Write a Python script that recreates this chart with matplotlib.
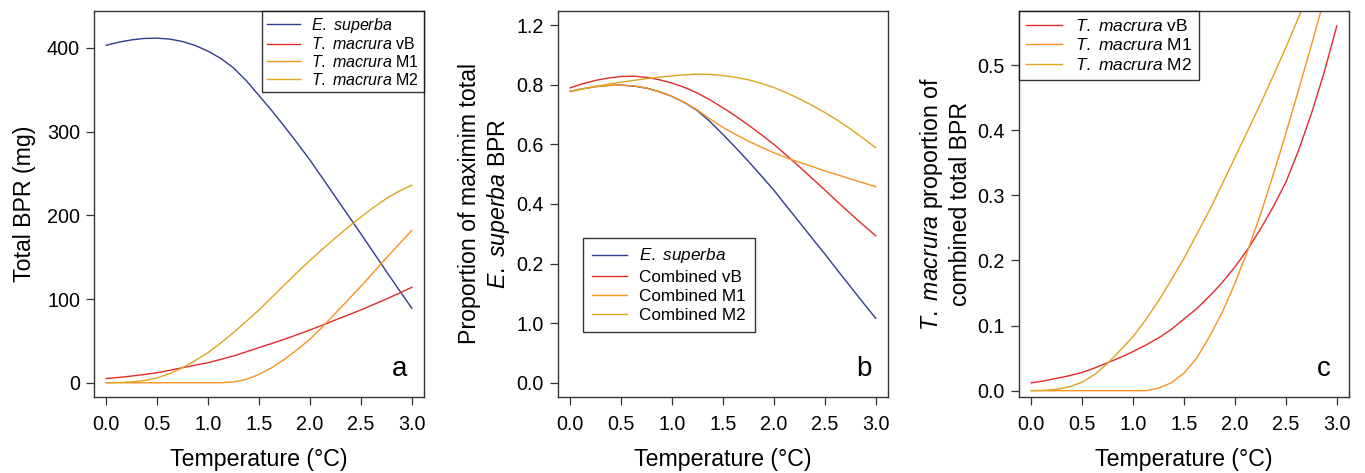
import matplotlib
matplotlib.use("Agg")
import matplotlib.pyplot as plt

plt.rcParams["font.family"] = ["Liberation Sans", "DejaVu Sans"]
plt.rcParams["mathtext.fontset"] = "custom"
plt.rcParams["mathtext.rm"] = "Liberation Sans"
plt.rcParams["mathtext.it"] = "Liberation Sans:italic"

# temperature grid (°C)
temp = [0.0, 0.125, 0.25, 0.375, 0.5, 0.625, 0.75, 0.875, 1.0, 1.125, 1.25, 1.375,
        1.5, 1.625, 1.75, 1.875, 2.0, 2.125, 2.25, 2.375, 2.5, 2.625, 2.75, 2.875, 3.0]

# panel a: total BPR (mg)
a_superba = [403, 406.8, 409.5, 411.2, 411.5, 410.4, 407.5, 402.7, 396, 387.3, 376, 360.8,
             343, 325.1, 306, 286.4, 266, 244.1, 222, 200, 178, 155.5, 133, 111, 89]
a_vb = [5, 6.4, 8, 9.9, 12, 14.9, 18, 21, 24, 27.9, 32, 36.9,
        42, 46.9, 52, 57.4, 63, 68.9, 75, 80.9, 87, 93.4, 100, 106.9, 114]
a_m1 = [0, 0, 0, 0, 0, 0, 0, 0, 0, 0, 1, 4,
        10, 18, 28, 39.5, 52, 67, 83, 99, 115, 132, 149, 165.5, 182]
a_m2 = [0, 0.3, 1, 2.6, 5.8, 11, 18, 26.6, 36, 47.6, 60, 73.3,
        87, 102, 117, 131.8, 146, 159.8, 173, 185.8, 198, 209.4, 220, 228.8, 236]

# panel b: proportion of maximum total E. superba BPR
b_superba = [0.978, 0.987, 0.994, 0.998, 0.999, 0.996, 0.989, 0.977, 0.961, 0.940, 0.913, 0.876,
             0.833, 0.789, 0.743, 0.695, 0.646, 0.592, 0.539, 0.485, 0.432, 0.377, 0.323, 0.269, 0.216]
b_vb = [0.990, 1.004, 1.015, 1.023, 1.028, 1.029, 1.025, 1.017, 1.006, 0.991, 0.972, 0.949,
        0.923, 0.895, 0.865, 0.833, 0.800, 0.763, 0.725, 0.686, 0.647, 0.607, 0.568, 0.530, 0.493]
b_m1 = [0.978, 0.987, 0.994, 0.998, 0.999, 0.996, 0.989, 0.977, 0.961, 0.940, 0.915, 0.885,
        0.857, 0.833, 0.811, 0.791, 0.772, 0.755, 0.740, 0.726, 0.711, 0.698, 0.684, 0.671, 0.658]
b_m2 = [0.978, 0.987, 0.995, 1.002, 1.009, 1.015, 1.021, 1.026, 1.030, 1.034, 1.036, 1.035,
        1.031, 1.025, 1.017, 1.005, 0.991, 0.973, 0.953, 0.931, 0.907, 0.881, 0.852, 0.821, 0.789]

# panel c: T. macrura proportion of combined total BPR
c_vb = [0.012, 0.015, 0.019, 0.023, 0.028, 0.035, 0.043, 0.051, 0.060, 0.070, 0.081, 0.094,
        0.110, 0.126, 0.145, 0.166, 0.190, 0.217, 0.248, 0.282, 0.320, 0.369, 0.425, 0.488, 0.560]
c_m1 = [0, 0, 0, 0, 0, 0, 0, 0, 0, 0, 0.004, 0.012,
        0.027, 0.050, 0.083, 0.120, 0.165, 0.215, 0.270, 0.331, 0.395, 0.462, 0.530, 0.600, 0.670]
c_m2 = [0, 0.0005, 0.002, 0.006, 0.013, 0.025, 0.042, 0.062, 0.083, 0.109, 0.138, 0.170,
        0.203, 0.240, 0.277, 0.317, 0.358, 0.399, 0.440, 0.483, 0.527, 0.573, 0.620, 0.670, 0.720]

b_ytick_labels = ["0.0", "1.0", "0.2", "0.4", "0.6", "0.8", "1.2"]

BLUE = "#2F3C8C"
RED = "#E32B2B"
ORANGE = "#F7931E"
GOLD = "#DFA41D"

fig = plt.figure(figsize=(13.65, 4.73), dpi=100)
ax_a = fig.add_axes([0.06886, 0.1607, 0.24176, 0.8161])
ax_b = fig.add_axes([0.40879, 0.1607, 0.24176, 0.8161])
ax_c = fig.add_axes([0.74652, 0.1607, 0.24176, 0.8161])

lw = 1.0
leg_kw = dict(frameon=True, fancybox=False, edgecolor="black",
              handlelength=2.1, handletextpad=0.7, borderaxespad=0)

# panel a
ax_a.plot(temp, a_superba, color=BLUE, lw=lw, label=r"$\it{E.\ superba}$")
ax_a.plot(temp, a_vb, color=RED, lw=lw, label=r"$\it{T.\ macrura}$ vB")
ax_a.plot(temp, a_m1, color=ORANGE, lw=lw, label=r"$\it{T.\ macrura}$ M1")
ax_a.plot(temp, a_m2, color=GOLD, lw=lw, label=r"$\it{T.\ macrura}$ M2")
ax_a.set_ylim(-17, 444)
ax_a.set_yticks([0, 100, 200, 300, 400])
ax_a.set_ylabel("Total BPR (mg)", fontsize=16.7, labelpad=8)
leg = ax_a.legend(loc="upper right", fontsize=11.5, labelspacing=0.1, borderpad=0.3, **leg_kw)
leg.get_frame().set_linewidth(1.0)
ax_a.text(0.95, 0.04, "a", transform=ax_a.transAxes, fontsize=20, ha="right", va="bottom")

# panel b
ax_b.plot(temp, b_superba, color=BLUE, lw=lw, label=r"$\it{E.\ superba}$")
ax_b.plot(temp, b_vb, color=RED, lw=lw, label="Combined vB")
ax_b.plot(temp, b_m1, color=ORANGE, lw=lw, label="Combined M1")
ax_b.plot(temp, b_m2, color=GOLD, lw=lw, label="Combined M2")
ax_b.set_ylim(-0.048, 1.248)
ax_b.set_yticks([0.0, 0.2, 0.4, 0.6, 0.8, 1.0, 1.2])
ax_b.set_yticklabels(b_ytick_labels)
ax_b.set_ylabel("Proportion of maximim total\n" + r"$\it{E.\ superba}$ BPR",
                fontsize=16.7, labelpad=3, linespacing=1.2)
leg = ax_b.legend(loc="upper left", bbox_to_anchor=(0.076, 0.412), fontsize=12.3,
                  labelspacing=0.25, borderpad=0.5, **leg_kw)
leg.get_frame().set_linewidth(1.0)
ax_b.text(0.95, 0.04, "b", transform=ax_b.transAxes, fontsize=20, ha="right", va="bottom")

# panel c
ax_c.plot(temp, c_vb, color=RED, lw=lw, label=r"$\it{T.\ macrura}$ vB")
ax_c.plot(temp, c_m1, color=ORANGE, lw=lw, label=r"$\it{T.\ macrura}$ M1")
ax_c.plot(temp, c_m2, color=GOLD, lw=lw, label=r"$\it{T.\ macrura}$ M2")
ax_c.set_ylim(-0.0097, 0.583)
ax_c.set_yticks([0.0, 0.1, 0.2, 0.3, 0.4, 0.5])
ax_c.set_ylabel(r"$\it{T.\ macrura}$ proportion of" + "\ncombined total BPR",
                fontsize=16.7, labelpad=4, linespacing=1.2)
leg = ax_c.legend(loc="upper left", fontsize=12.5, labelspacing=0.2, borderpad=0.4, **leg_kw)
leg.get_frame().set_linewidth(1.0)
ax_c.text(0.945, 0.04, "c", transform=ax_c.transAxes, fontsize=20, ha="right", va="bottom")

for ax in (ax_a, ax_b, ax_c):
    ax.set_xlim(-0.12, 3.12)
    ax.set_xticks([0.0, 0.5, 1.0, 1.5, 2.0, 2.5, 3.0])
    ax.set_xticklabels(["0.0", "0.5", "1.0", "1.5", "2.0", "2.5", "3.0"])
    ax.set_xlabel("Temperature (°C)", fontsize=16.7, labelpad=10)
    ax.tick_params(direction="out", length=6, width=0.9, color="#333333",
                   labelsize=14.2, pad=4)
    ax.tick_params(axis="x", pad=7)
    for s in ax.spines.values():
        s.set_color("#333333")
        s.set_linewidth(1.0)

fig.savefig("out.png", dpi=100)
